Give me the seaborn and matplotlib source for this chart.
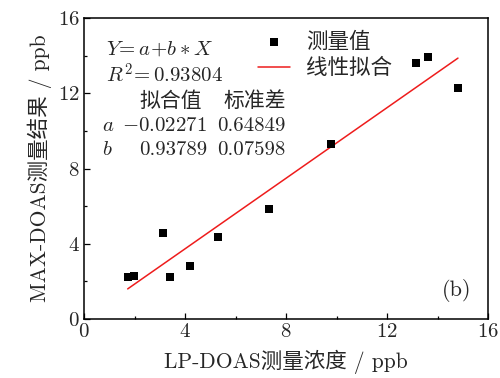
import numpy as np
import pandas as pd
import matplotlib
matplotlib.use('Agg')
import matplotlib.pyplot as plt
import seaborn as sns

# LP-DOAS vs MAX-DOAS measurements (ppb)
lp_doas = [1.73, 1.99, 3.12, 3.42, 4.20, 5.31, 7.33, 9.80, 13.13, 13.61, 14.81]
max_doas = [2.22, 2.29, 4.59, 2.22, 2.82, 4.35, 5.83, 9.31, 13.62, 13.92, 12.30]

# fit results
fit_a, fit_b = -0.02271, 0.93789
err_a, err_b = 0.64849, 0.07598
r_squared = 0.93804

sns.set_theme(style='ticks')
plt.rcParams['font.family'] = ['cmr10', 'Noto Sans CJK SC', 'DejaVu Sans']
plt.rcParams['mathtext.fontset'] = 'cm'
plt.rcParams['axes.formatter.use_mathtext'] = True
plt.rcParams['axes.unicode_minus'] = False

W, H = 500, 378
fig = plt.figure(figsize=(5, 3.78), dpi=100)
ax = fig.add_axes([84 / W, 1 - 319 / H, 404 / W, 301 / H])

df = pd.DataFrame({'x': lp_doas, 'y': max_doas})
fit_x = np.array([min(lp_doas), max(lp_doas)])
fit_df = pd.DataFrame({'x': fit_x, 'y': fit_a + fit_b * fit_x})

sns.scatterplot(data=df, x='x', y='y', marker='s', s=26, color='black',
                edgecolor='black', linewidth=0, label='测量值', ax=ax, zorder=3)
sns.lineplot(data=fit_df, x='x', y='y', color='#ee1c1c', linewidth=1.1,
             label='线性拟合', ax=ax)

ax.set_xlim(0, 16)
ax.set_ylim(0, 16)
ax.set_xticks([0, 4, 8, 12, 16])
ax.set_yticks([0, 4, 8, 12, 16])
ax.set_xticks([2, 6, 10, 14], minor=True)
ax.set_yticks([2, 6, 10, 14], minor=True)
ax.tick_params(which='both', direction='in', labelsize=15, color='black', width=0.9)
ax.tick_params(which='major', length=4, pad=3)
ax.tick_params(which='minor', length=2.5)
for sp in ax.spines.values():
    sp.set_visible(True)
    sp.set_color('black')
    sp.set_linewidth(1.1)

ax.set_xlabel('LP-DOAS测量浓度 / ppb', fontsize=15.5, labelpad=6)
ax.set_ylabel('MAX-DOAS测量结果 / ppb', fontsize=15.5, labelpad=4)

ax.legend(loc='center left', bbox_to_anchor=(247 / W, 1 - 55 / H), bbox_transform=fig.transFigure,
          frameon=False, fontsize=15.5, handlelength=1.5, handletextpad=0.75,
          labelspacing=0.3, borderpad=0, markerscale=1.0)


def ftext(px, py, s, **kw):
    fig.text(px / W, 1 - py / H, s, va='center', fontsize=15, **kw)


ftext(106, 49, r'$Y\!=a\!+\!b*X$')
ftext(106, 75, r'$R^2\!=$' + f'{r_squared:.5f}')
ftext(139, 101, '拟合值')
ftext(223, 101, '标准差')
ftext(102, 126, r'$a$')
ftext(102, 150, r'$b$')
ftext(207, 126, r'$-$' + f'{abs(fit_a):.5f}', ha='right')
ftext(207, 150, f'{fit_b:.5f}', ha='right')
ftext(285, 126, f'{err_a:.5f}', ha='right')
ftext(285, 150, f'{err_b:.5f}', ha='right')

ax.text(14.75, 1.5, '(b)', fontsize=16, ha='center', va='center')

fig.savefig('out.png', dpi=100)
